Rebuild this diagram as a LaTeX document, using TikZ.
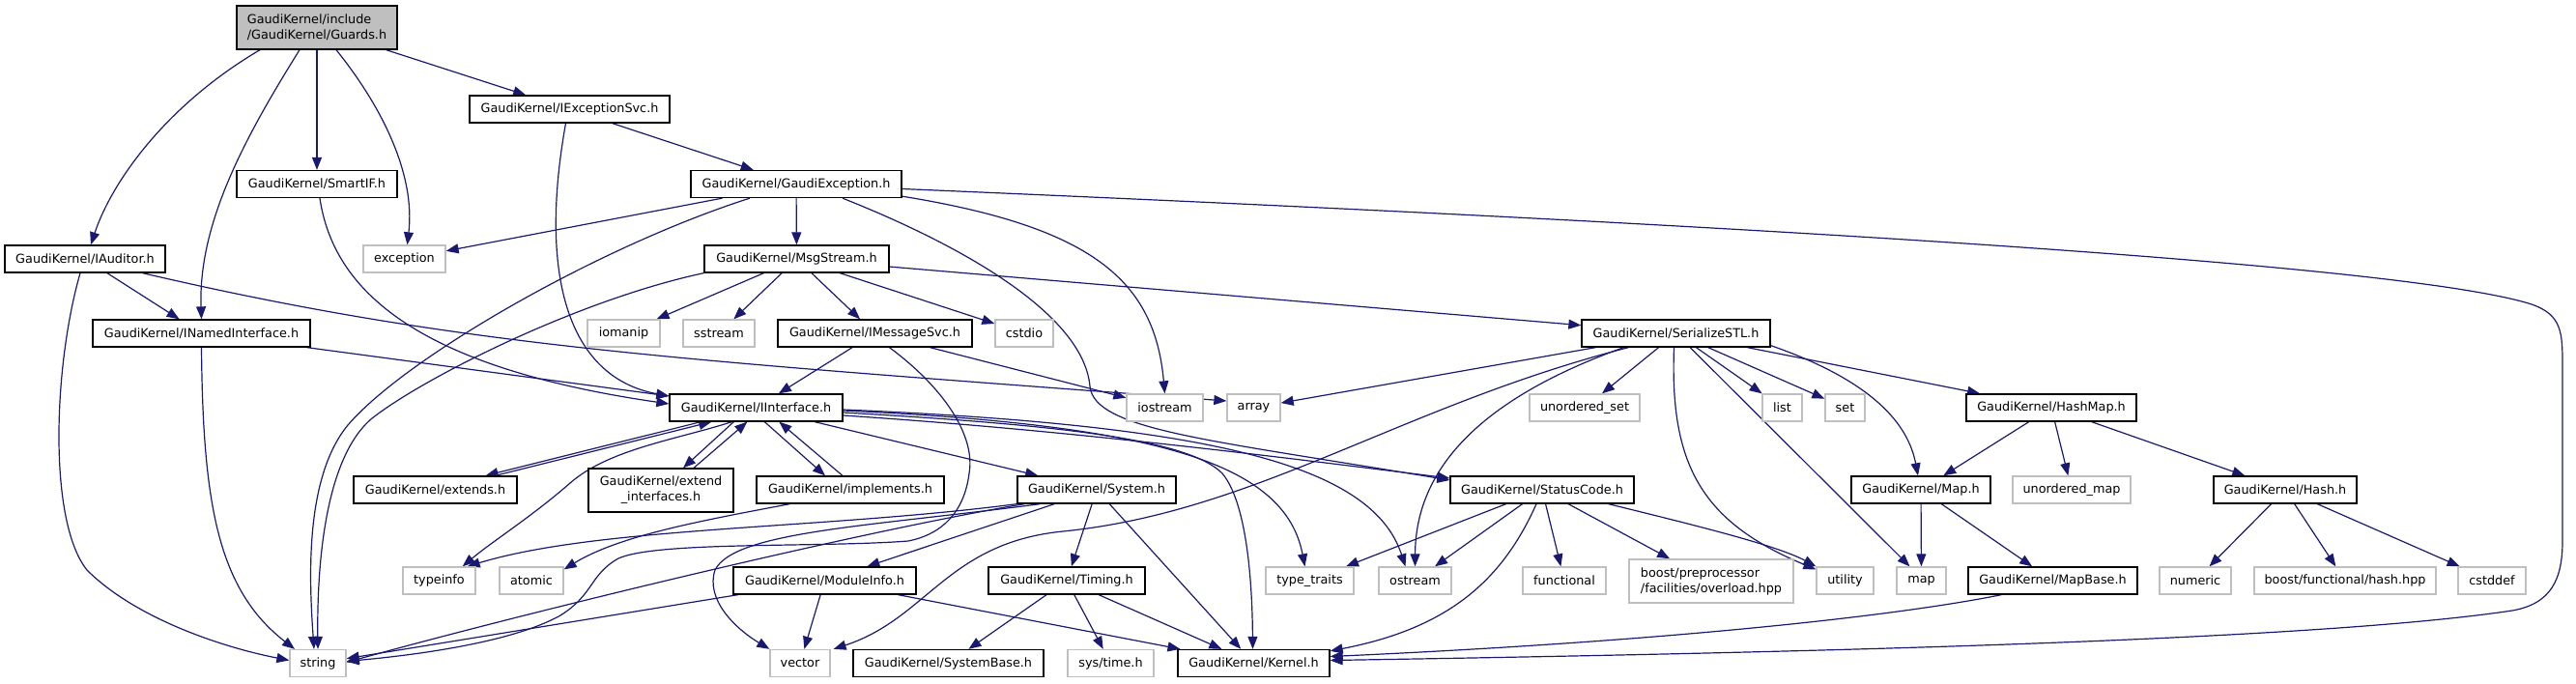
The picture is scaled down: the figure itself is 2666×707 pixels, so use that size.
\documentclass[tikz,border=0pt]{standalone}
\usepackage{fontspec}
\setmainfont{DejaVu Sans}
\usetikzlibrary{arrows.meta,calc}
\definecolor{edgec}{HTML}{191970}
\definecolor{graybd}{HTML}{BFBFBF}
\pgfdeclarelayer{bg}
\pgfsetlayers{bg,main}
\begin{document}
\begin{tikzpicture}[x=1pt,y=-1pt,font=\fontsize{12.8}{16}\selectfont,
  bx/.style={draw=black,line width=1.3pt,fill=white,inner sep=0pt,minimum height=28pt},
  gx/.style={draw=graybd,line width=1.3pt,fill=white,inner sep=0pt,minimum height=28pt},
  edg/.style={draw=edgec,line width=1.2pt,-{Triangle[length=13pt,width=10pt]}}]
\useasboundingbox (0,0) rectangle (2666,707);
% nodes
\node[bx,fill=graybd,minimum width=166pt,minimum height=45pt,align=left] (guards) at (328,28.5) {GaudiKernel/include\\/GaudiKernel/Guards.h};
\node[bx,minimum width=207pt] (iexc) at (589.5,113) {GaudiKernel/IExceptionSvc.h};
\node[bx,minimum width=166pt] (smartif) at (328,190.5) {GaudiKernel/SmartIF.h};
\node[bx,minimum width=218pt] (gexc) at (824,190.5) {GaudiKernel/GaudiException.h};
\node[bx,minimum width=166pt] (iaud) at (88,268) {GaudiKernel/IAuditor.h};
\node[gx,minimum width=85pt] (exception) at (418.5,268) {exception};
\node[bx,minimum width=191pt] (msg) at (824.5,268) {GaudiKernel/MsgStream.h};
\node[bx,minimum width=225pt] (inamed) at (208.5,345) {GaudiKernel/INamedInterface.h};
\node[gx,minimum width=75pt] (iomanip) at (645.5,345) {iomanip};
\node[gx,minimum width=74pt] (sstream) at (744,345) {sstream};
\node[bx,minimum width=201pt] (imsg) at (905.5,345) {GaudiKernel/IMessageSvc.h};
\node[gx,minimum width=60pt] (cstdio) at (1060,345) {cstdio};
\node[bx,minimum width=195pt] (serial) at (1734.5,345) {GaudiKernel/SerializeSTL.h};
\node[bx,minimum width=179pt] (iint) at (782.5,422) {GaudiKernel/IInterface.h};
\node[gx,minimum width=79pt] (iostream) at (1205.5,422) {iostream};
\node[gx,minimum width=55pt] (array) at (1297.5,422) {array};
\node[gx,minimum width=114pt] (uset) at (1640,422) {unordered\_set};
\node[gx,minimum width=41pt] (nlist) at (1844.5,422) {list};
\node[gx,minimum width=41pt] (nset) at (1909.5,422) {set};
\node[bx,minimum width=176pt] (hashmap) at (2123,422) {GaudiKernel/HashMap.h};
\node[bx,minimum width=169pt] (extends) at (450.5,507) {GaudiKernel/extends.h};
\node[bx,minimum width=150pt,minimum height=45pt,align=center] (extif) at (684,507.5) {GaudiKernel/extend\\\_interfaces.h};
\node[bx,minimum width=194pt] (impl) at (880,507) {GaudiKernel/implements.h};
\node[bx,minimum width=164pt] (system) at (1135,507) {GaudiKernel/System.h};
\node[bx,minimum width=190pt] (status) at (1596,507) {GaudiKernel/StatusCode.h};
\node[bx,minimum width=144pt] (maph) at (1988,507) {GaudiKernel/Map.h};
\node[gx,minimum width=122pt] (umap) at (2144,507) {unordered\_map};
\node[bx,minimum width=148pt] (hash) at (2365,507) {GaudiKernel/Hash.h};
\node[gx,minimum width=75pt] (typeinfo) at (454.5,601) {typeinfo};
\node[gx,minimum width=66pt] (atomic) at (550,601) {atomic};
\node[bx,minimum width=189pt] (modinfo) at (853.5,601) {GaudiKernel/ModuleInfo.h};
\node[bx,minimum width=162pt] (timing) at (1104,601) {GaudiKernel/Timing.h};
\node[gx,minimum width=91pt] (ttraits) at (1355.5,601) {type\_traits};
\node[gx,minimum width=75pt] (ostream) at (1464.5,601) {ostream};
\node[gx,minimum width=86pt] (functional) at (1619,601) {functional};
\node[gx,minimum width=170pt,minimum height=45pt,align=left] (boostpp) at (1771,601.5) {boost/preprocessor\\/facilities/overload.hpp};
\node[gx,minimum width=59pt] (utility) at (1909.5,601) {utility};
\node[gx,minimum width=51pt] (nmap) at (1988.5,601) {map};
\node[bx,minimum width=175pt] (mapbase) at (2124.5,601) {GaudiKernel/MapBase.h};
\node[gx,minimum width=74pt] (numeric) at (2272,601) {numeric};
\node[gx,minimum width=188pt] (boosthash) at (2427,601) {boost/functional/hash.hpp};
\node[gx,minimum width=70pt] (cstddef) at (2579,601) {cstddef};
\node[gx,minimum width=58pt] (nstring) at (329,686.5) {string};
\node[gx,minimum width=62pt] (vector) at (828,686.5) {vector};
\node[bx,minimum width=197pt] (sysbase) at (981.5,686.5) {GaudiKernel/SystemBase.h};
\node[gx,minimum width=89pt] (systime) at (1149.5,686.5) {sys/time.h};
\node[bx,minimum width=157pt] (kernel) at (1297.5,686.5) {GaudiKernel/Kernel.h};
% edges
\begin{pgfonlayer}{bg}
% Guards
\draw[edg] ($(guards.south)+(-59,0)$) .. controls (170,110) and (115,190) .. ($(iaud.north)+(6,0)$);
\draw[edg] ($(guards.south)+(-18,0)$) .. controls (255,140) and (205,230) .. (inamed.north);
\draw[edg] (guards) -- (smartif);
\draw[edg] ($(guards.south)+(20,0)$) .. controls (395,110) and (430,180) .. ($(exception.north)+(3,0)$);
\draw[edg] (guards) -- (iexc);
% IExceptionSvc, SmartIF
\draw[edg] (iexc) -- (gexc);
\draw[edg] ($(iexc.south)+(-4,0)$) .. controls (558,280) and (585,390) .. ($(iint.west)+(0,-12)$);
\draw[edg] ($(smartif.south)+(3,0)$) .. controls (345,300) and (430,380) .. ($(iint.west)+(0,-4)$);
% GaudiException
\draw[edg] (gexc) -- (exception);
\draw[edg] ($(gexc.south)+(-48,0)$) .. controls (620,255) and (420,370) .. (360,440) .. controls (315,495) and (320,600) .. ($(nstring.north)+(-4,0)$);
\draw[edg] (gexc) -- (msg);
\draw[edg] ($(gexc.south east)+(0,-2)$) .. controls (1130,235) and (1195,290) .. (iostream.north);
\draw[edg] ($(gexc.south)+(48,0)$) .. controls (1010,260) and (1122,330) .. (1128,400) .. controls (1133,445) and (1250,455) .. ($(status.west)+(0,-10)$);
\draw[edg] ($(gexc.east)+(0,5)$) .. controls (1700,228) and (2480,270) .. (2620,315) .. controls (2652,326) and (2652,345) .. (2652,380) -- (2652,560) .. controls (2652,600) and (2640,625) .. (2600,632) .. controls (2400,662) and (1900,675) .. ($(kernel.east)+(0,-3)$);
% IAuditor, INamedInterface
\draw[edg] (iaud) -- (inamed);
\draw[edg] ($(iaud.south)+(-5,0)$) .. controls (55,380) and (50,540) .. (90,590) .. controls (140,640) and (230,670) .. ($(nstring.west)+(0,-3)$);
\draw[edg] ($(iaud.south east)+(-24,0)$) .. controls (480,360) and (700,372) .. ($(array.west)+(0,-7)$);
\draw[edg] (inamed) -- (iint);
\draw[edg] (inamed.south) .. controls (210,520) and (225,610) .. ($(nstring.north)+(-24,0)$);
% MsgStream
\draw[edg] (msg.south west) .. controls (600,310) and (440,390) .. (385,433) .. controls (335,475) and (328,590) .. (nstring.north);
\draw[edg] (msg) -- (iomanip);
\draw[edg] (msg) -- (sstream);
\draw[edg] (msg) -- (imsg);
\draw[edg] (msg) -- (cstdio);
\draw[edg] (msg) -- (serial);
% IMessageSvc
\draw[edg] (imsg) -- (iint);
\draw[edg] (imsg) -- (iostream);
\draw[edg] ($(imsg.south)+(15,0)$) .. controls (975,400) and (1010,450) .. (1003,490) .. controls (998,530) and (975,553) .. (940,560) .. controls (850,567) and (680,560) .. (640,578) .. controls (610,595) and (615,615) .. (580,637) .. controls (530,665) and (430,678) .. ($(nstring.east)+(0,-2)$);
% IInterface
\draw[edg] ($(iint.south west)+(33,0)$) -- ($(extends.north)+(52,0)$);
\draw[edg] ($(extends.north)+(62,0)$) -- ($(iint.south west)+(44,0)$);
\draw[edg] ($(iint.south west)+(67,0)$) -- ($(extif.north)+(23,0)$);
\draw[edg] ($(extif.north)+(34,0)$) -- ($(iint.south west)+(81,0)$);
\draw[edg] ($(iint.south west)+(99,0)$) -- ($(impl.north)+(-26,0)$);
\draw[edg] ($(impl.north)+(-8,0)$) -- ($(iint.south west)+(114,0)$);
\draw[edg] ($(iint.south)+(-25,0)$) .. controls (700,455) and (630,465) .. (590,500) .. controls (550,535) and (510,560) .. ($(typeinfo.north east)+(-14,0)$);
\draw[edg] (iint) -- (system);
\draw[edg] ($(iint.east)+(0,5)$) .. controls (1100,440) and (1230,455) .. (1265,490) .. controls (1290,520) and (1296,600) .. ($(kernel.north)+(-1,0)$);
\draw[edg] ($(iint.east)+(0,3)$) .. controls (1200,440) and (1330,480) .. ($(ttraits.north)+(-5,0)$);
\draw[edg] ($(iint.east)+(0,2)$) .. controls (1250,440) and (1420,480) .. ($(ostream.north)+(-10,0)$);
\draw[edg] ($(iint.east)+(0,8)$) .. controls (1100,445) and (1300,470) .. ($(status.west)+(0,-12)$);
% implements
\draw[edg] ($(impl.south west)+(35,0)$) .. controls (720,540) and (640,555) .. ($(atomic.north east)+(0,3)$);
% System
\draw[edg] (system.south west) .. controls (850,548) and (620,545) .. ($(typeinfo.north east)+(-9,0)$);
\draw[edg] ($(system.south west)+(8,0)$) .. controls (900,548) and (560,630) .. ($(nstring.east)+(0,-1)$);
\draw[edg] ($(system.south west)+(24,0)$) .. controls (900,545) and (760,550) .. (740,590) .. controls (730,620) and (760,650) .. (vector.north west);
\draw[edg] (system) -- (modinfo);
\draw[edg] (system) -- (timing);
\draw[edg] (system) -- (kernel);
% ModuleInfo, Timing
\draw[edg] (modinfo) -- (nstring);
\draw[edg] (modinfo) -- (vector);
\draw[edg] (modinfo) -- (kernel);
\draw[edg] (timing) -- (sysbase);
\draw[edg] (timing) -- (systime);
\draw[edg] (timing) -- (kernel);
% SerializeSTL
\draw[edg] (serial) -- (array);
\draw[edg] ($(serial.south west)+(49,0)$) .. controls (1450,420) and (1300,530) .. (1100,550) .. controls (980,562) and (960,640) .. ($(vector.north east)+(3,0)$);
\draw[edg] ($(serial.south west)+(44,0)$) .. controls (1540,410) and (1465,480) .. (ostream.north);
\draw[edg] (serial) -- (uset);
\draw[edg] ($(serial.south)+(-2,0)$) .. controls (1728,480) and (1760,540) .. ($(utility.north west)+(0,3)$);
\draw[edg] (serial) -- ($(nmap.north)+(-12,0)$);
\draw[edg] (serial) -- (nlist);
\draw[edg] (serial) -- (nset);
\draw[edg] ($(serial.south east)+(0,-2)$) .. controls (1940,395) and (1975,440) .. ($(maph.north)+(-3,0)$);
\draw[edg] (serial) -- (hashmap);
% StatusCode
\draw[edg] (status) -- (ttraits);
\draw[edg] (status) -- (ostream);
\draw[edg] ($(status.south)+(-6,0)$) .. controls (1555,600) and (1500,650) .. ($(kernel.north east)+(0,2)$);
\draw[edg] (status) -- (functional);
\draw[edg] (status) -- (boostpp);
\draw[edg] ($(status.south east)+(-27,0)$) .. controls (1760,545) and (1840,565) .. (utility.north west);
% Map, HashMap, Hash, MapBase
\draw[edg] (maph) -- (nmap);
\draw[edg] (maph) -- (mapbase);
\draw[edg] (hashmap) -- (maph);
\draw[edg] (hashmap) -- (umap);
\draw[edg] (hashmap) -- (hash);
\draw[edg] (hash) -- (numeric);
\draw[edg] (hash) -- (boosthash);
\draw[edg] (hash) -- (cstddef);
\draw[edg] ($(mapbase.south west)+(35,0)$) .. controls (1950,640) and (1700,665) .. ($(kernel.east)+(0,-7)$);
\end{pgfonlayer}
\end{tikzpicture}
\end{document}
